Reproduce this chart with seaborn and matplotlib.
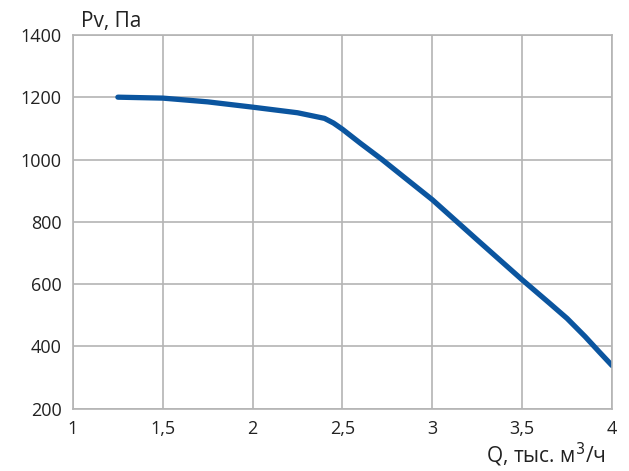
import matplotlib
matplotlib.use("Agg")
import matplotlib.pyplot as plt
import seaborn as sns
import pandas as pd

# flow rate, thousand m3/h
q = [1.25, 1.5, 1.75, 2.0, 2.25, 2.4, 2.45, 2.5, 2.6, 2.72, 2.85, 3.0, 3.25,
     3.5, 3.65, 3.75, 3.85, 3.93, 4.0]
# pressure, Pa
pv = [1200, 1197, 1185, 1168, 1150, 1132, 1117, 1097, 1052, 1000, 940, 871, 742,
      614, 540, 490, 432, 382, 339]

x_ticks = [1, 1.5, 2, 2.5, 3, 3.5, 4]
x_labels = ["1", "1,5", "2", "2,5", "3", "3,5", "4"]
y_ticks = [200, 400, 600, 800, 1000, 1200, 1400]

sns.set_style("white")
plt.rcParams["font.family"] = ["Open Sans", "DejaVu Sans"]

fig = plt.figure(figsize=(6.29, 4.71), dpi=100)
ax = fig.add_axes([0.116, 0.132, 0.857, 0.794])

df = pd.DataFrame({"Q": q, "Pv": pv})
sns.lineplot(data=df, x="Q", y="Pv", ax=ax, color="#0b559f", lw=3.8,
             solid_capstyle="round", solid_joinstyle="round")

ax.set_xlim(1, 4)
ax.set_ylim(200, 1400)
ax.set_xticks(x_ticks)
ax.set_xticklabels(x_labels)
ax.set_yticks(y_ticks)
ax.tick_params(length=0, labelsize=13, colors="#222222", pad=8)
ax.grid(True, color="#b4b4b4", lw=1.2)
for s in ax.spines.values():
    s.set_color("#b4b4b4")
    s.set_linewidth(1.2)

ax.set_xlabel("")
ax.set_ylabel("")
fig.text(0.128, 0.955, "Pv, Па", fontsize=15, color="#222222", va="center")
fig.text(0.963, 0.035, "Q, тыс. м$^3$/ч", fontsize=15, color="#222222",
         ha="right", va="center")

fig.savefig("out.png", dpi=100)
